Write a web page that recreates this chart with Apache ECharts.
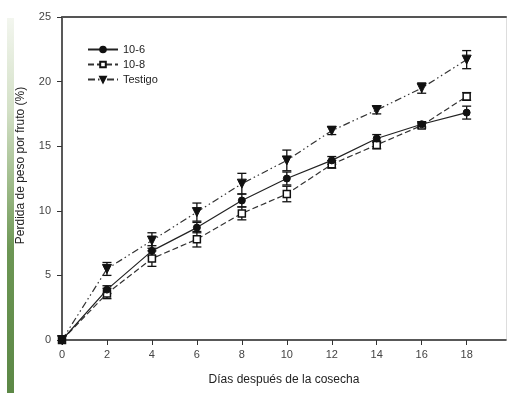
<!DOCTYPE html>
<html>
<head>
<meta charset="utf-8">
<script src="https://cdn.jsdelivr.net/npm/echarts@6/dist/echarts.min.js"></script>
<style>
  html, body { margin: 0; padding: 0; background: #fff; }
  #wrap { position: relative; width: 510px; height: 393px; overflow: hidden; }
  #side { position: absolute; left: 7px; top: 18px; width: 7px; height: 375px;
          background: linear-gradient(to bottom, #f3f6ef 0%, #d3e0c6 25%, #9dba88 45%, #6c9654 62%, #5c8846 100%); }
  #chart { position: absolute; left: 0; top: 0; width: 510px; height: 393px; }
</style>
</head>
<body>
<div id="wrap">
  <div id="side"></div>
  <div id="chart"></div>
</div>
<script>
// Días después de la cosecha
const days = [0, 2, 4, 6, 8, 10, 12, 14, 16, 18];
// Pérdida de peso (%) por tratamiento
const t106 = [0, 3.9, 6.9, 8.7, 10.8, 12.5, 13.9, 15.6, 16.7, 17.6];
const t108 = [0, 3.6, 6.3, 7.8, 9.8, 11.3, 13.6, 15.1, 16.6, 18.85];
const testigo = [0, 5.5, 7.7, 9.9, 12.1, 13.9, 16.2, 17.8, 19.5, 21.7];
// Error estándar
const e106 = [0, 0.3, 0.4, 0.4, 0.5, 0.5, 0.3, 0.3, 0.2, 0.5];
const e108 = [0, 0.4, 0.6, 0.6, 0.5, 0.6, 0.3, 0.3, 0.2, 0.3];
const eTest = [0, 0.5, 0.6, 0.7, 0.8, 0.8, 0.3, 0.3, 0.4, 0.7];
const yTicks = [0, 5, 10, 15, 20, 25];

const pairs = (ys) => days.map((d, i) => [d, ys[i]]);
const errRows = (ys, es) => days.map((d, i) => [d, ys[i] - es[i], ys[i] + es[i]]);

function errorBar(params, api) {
  const x = api.value(0);
  const lo = api.coord([x, api.value(1)]);
  const hi = api.coord([x, api.value(2)]);
  if (Math.abs(lo[1] - hi[1]) < 0.5) return null;
  const cap = 4.5;
  const style = { stroke: '#111', lineWidth: 1.3 };
  return {
    type: 'group',
    children: [
      { type: 'line', shape: { x1: lo[0], y1: lo[1], x2: hi[0], y2: hi[1] }, style },
      { type: 'line', shape: { x1: lo[0] - cap, y1: lo[1], x2: lo[0] + cap, y2: lo[1] }, style },
      { type: 'line', shape: { x1: hi[0] - cap, y1: hi[1], x2: hi[0] + cap, y2: hi[1] }, style }
    ]
  };
}

const chart = echarts.init(document.getElementById('chart'), null, { renderer: 'canvas' });
const font = 'Liberation Sans, Arial, sans-serif';

chart.setOption({
  animation: false,
  backgroundColor: 'transparent',
  grid: { left: 62, right: 4, top: 17, bottom: 53 },
  legend: {
    orient: 'vertical',
    left: 82, top: 39,
    itemWidth: 30, itemHeight: 7, itemGap: 4,
    textStyle: { fontFamily: font, fontSize: 11, color: '#222' },
    data: ['10-6', '10-8', 'Testigo']
  },
  xAxis: [{
    type: 'value', min: 0, max: 19.75, interval: 2,
    name: 'Días después de la cosecha', nameLocation: 'middle', nameGap: 34,
    nameTextStyle: { fontFamily: font, fontSize: 12, color: '#222' },
    axisLine: { show: true, onZero: false, lineStyle: { color: '#222', width: 1.5 } },
    axisTick: { show: true, inside: false, length: 5, lineStyle: { color: '#333' } },
    axisLabel: {
      margin: 9, fontFamily: font, fontSize: 11, color: '#444', showMaxLabel: false,
      formatter: (v) => (days.indexOf(v) >= 0 ? String(v) : '')
    },
    splitLine: { show: false }
  }, {
    type: 'value', position: 'top', min: 0, max: 19.75,
    axisLine: { show: true, onZero: false, lineStyle: { color: '#555', width: 2 } },
    axisTick: { show: false }, axisLabel: { show: false }, splitLine: { show: false }
  }],
  yAxis: [{
    type: 'value', min: yTicks[0], max: yTicks[yTicks.length - 1], interval: 5,
    name: 'Perdida de peso por fruto (%)', nameLocation: 'middle', nameGap: 35,
    nameTextStyle: { fontFamily: font, fontSize: 12, color: '#222', padding: [0, 0, 0, 26] },
    axisLine: { show: true, onZero: false, lineStyle: { color: '#222', width: 1.5 } },
    axisTick: { show: true, inside: false, length: 5, lineStyle: { color: '#333' } },
    axisLabel: { margin: 11, fontFamily: font, fontSize: 11, color: '#444' },
    splitLine: { show: false }
  }, {
    type: 'value', position: 'right', min: 0, max: 25,
    axisLine: { show: true, onZero: false, lineStyle: { color: '#ddd', width: 1 } },
    axisTick: { show: false }, axisLabel: { show: false }, splitLine: { show: false }
  }],
  series: [
    {
      name: 'err-10-8', type: 'custom', renderItem: errorBar, data: errRows(t108, e108),
      encode: { x: 0, y: [1, 2] }, z: 3, silent: true
    },
    {
      name: 'err-10-6', type: 'custom', renderItem: errorBar, data: errRows(t106, e106),
      encode: { x: 0, y: [1, 2] }, z: 3, silent: true
    },
    {
      name: 'err-testigo', type: 'custom', renderItem: errorBar, data: errRows(testigo, eTest),
      encode: { x: 0, y: [1, 2] }, z: 3, silent: true
    },
    {
      name: '10-8', type: 'line', data: pairs(t108), z: 4,
      symbol: 'rect', symbolSize: 7,
      lineStyle: { color: '#333', width: 1.2, type: [6, 3] },
      itemStyle: { color: '#fff', borderColor: '#111', borderWidth: 1.5 }
    },
    {
      name: '10-6', type: 'line', data: pairs(t106), z: 5,
      symbol: 'circle', symbolSize: 7,
      lineStyle: { color: '#222', width: 1.2, type: 'solid' },
      itemStyle: { color: '#111', borderColor: '#111', borderWidth: 1 }
    },
    {
      name: 'Testigo', type: 'line', data: pairs(testigo), z: 5,
      symbol: 'triangle', symbolRotate: 180, symbolSize: 9,
      lineStyle: { color: '#333', width: 1.2, type: [7, 3, 1.5, 3, 1.5, 3] },
      itemStyle: { color: '#111', borderColor: '#111', borderWidth: 1 }
    }
  ]
});
</script>
</body>
</html>
